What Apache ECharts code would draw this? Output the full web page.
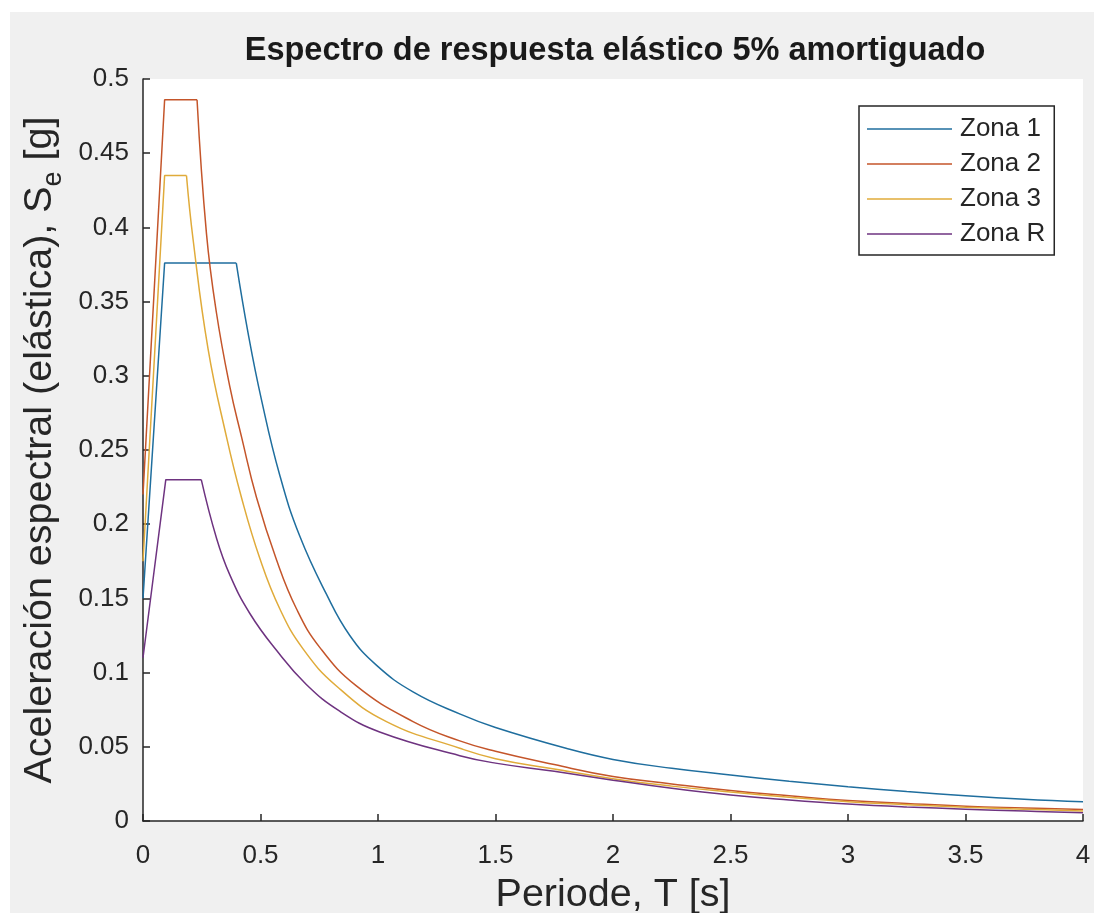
<!DOCTYPE html>
<html>
<head>
<meta charset="utf-8">
<title>Espectro de respuesta elástico</title>
<script src="https://cdn.jsdelivr.net/npm/echarts@6/dist/echarts.min.js"></script>
<style>
  html, body { margin: 0; padding: 0; background: #ffffff; }
  #chart { width: 1094px; height: 913px; }
</style>
</head>
<body>
<div id="chart"></div>
<script>
// Elastic response spectra, 5% damping: [T (s), Se (g)] per seismic zone.
// Points 0..2 are the linear ramp and the flat plateau; the rest is the decaying branch.
const zona1 = [
  [0, 0.15], [0.092, 0.376], [0.397, 0.376],
  [0.447, 0.329], [0.504, 0.284], [0.582, 0.233], [0.667, 0.192], [0.78, 0.153],
  [0.88, 0.125], [0.993, 0.105], [1.149, 0.087], [1.35, 0.072], [1.5, 0.063],
  [1.8, 0.049], [2.0, 0.0415], [2.25, 0.0355], [2.5, 0.031], [2.75, 0.0268],
  [3.0, 0.0231], [3.25, 0.0198], [3.5, 0.0170], [3.75, 0.0147], [4.0, 0.013]
];
const zona2 = [
  [0, 0.22], [0.092, 0.486], [0.23, 0.486],
  [0.27, 0.396], [0.312, 0.343], [0.369, 0.293], [0.419, 0.259], [0.483, 0.218],
  [0.568, 0.176], [0.653, 0.143], [0.752, 0.117], [0.908, 0.091], [1.149, 0.067],
  [1.348, 0.054], [1.5, 0.047], [1.75, 0.038], [2.0, 0.030], [2.25, 0.025],
  [2.5, 0.0205], [2.75, 0.017], [3.0, 0.0138], [3.25, 0.0118], [3.5, 0.0100],
  [3.75, 0.0088], [4.0, 0.0077]
];
const zona3 = [
  [0, 0.175], [0.092, 0.435], [0.185, 0.435],
  [0.213, 0.392], [0.277, 0.318], [0.355, 0.259], [0.419, 0.218], [0.497, 0.177],
  [0.582, 0.143], [0.681, 0.116], [0.823, 0.091], [1.036, 0.067], [1.348, 0.049],
  [1.5, 0.042], [1.75, 0.035], [2.0, 0.0285], [2.25, 0.0235], [2.5, 0.0195],
  [2.75, 0.016], [3.0, 0.013], [3.25, 0.011], [3.5, 0.0093], [3.75, 0.0080],
  [4.0, 0.0068]
];
const zonaR = [
  [0, 0.11], [0.097, 0.23], [0.248, 0.23],
  [0.312, 0.191], [0.369, 0.166], [0.454, 0.140], [0.568, 0.115], [0.695, 0.092],
  [0.837, 0.074], [1.007, 0.060], [1.348, 0.044], [1.5, 0.039], [1.75, 0.0335],
  [2.0, 0.0275], [2.25, 0.022], [2.5, 0.0175], [2.75, 0.0142], [3.0, 0.0115],
  [3.25, 0.0095], [3.5, 0.0080], [3.75, 0.0067], [4.0, 0.0056]
];

const zoneNames = ['Zona 1', 'Zona 2', 'Zona 3', 'Zona R'];
const zoneData = [zona1, zona2, zona3, zonaR];
const zoneColors = ['#1f6e9e', '#c4552a', '#e0ab3a', '#6e3380'];

const xTicks = { min: 0, max: 4, interval: 0.5 };
const yTicks = { min: 0, max: 0.5, interval: 0.05 };

const FONT = '"Liberation Sans", Arial, Helvetica, sans-serif';
const INK = '#262626';

// Each zone: a straight ramp + plateau, then a smooth decaying branch (same legend name).
const series = [];
zoneData.forEach(function (pts, i) {
  const common = {
    name: zoneNames[i],
    type: 'line',
    symbol: 'none',
    color: zoneColors[i],
    lineStyle: { color: zoneColors[i], width: 1.5 },
    emphasis: { disabled: true },
    animation: false,
    z: 2 + i
  };
  series.push(Object.assign({}, common, { data: pts.slice(0, 3), smooth: false }));
  series.push(Object.assign({}, common, { data: pts.slice(2), smooth: 0.45 }));
});

const chart = echarts.init(document.getElementById('chart'), null, { renderer: 'canvas' });
chart.setOption({
  backgroundColor: '#ffffff',
  animation: false,
  textStyle: { fontFamily: FONT, color: INK },
  graphic: [{
    type: 'rect',
    silent: true,
    z: -100,
    shape: { x: 10, y: 12, width: 1084, height: 901 },
    style: { fill: '#f0f0f0' }
  }],
  title: {
    text: 'Espectro de respuesta elástico 5% amortiguado',
    left: 610,
    top: 30,
    textAlign: 'center',
    textStyle: { fontFamily: FONT, fontSize: 32.5, fontWeight: 'bold', color: '#1a1a1a' }
  },
  legend: {
    data: zoneNames,
    orient: 'vertical',
    left: 859,
    top: 106,
    padding: [10, 9, 8, 8],
    itemWidth: 85,
    itemHeight: 14,
    itemGap: 9,
    icon: 'path://M0,0H170V3H0Z',
    backgroundColor: '#ffffff',
    borderColor: INK,
    borderWidth: 1.5,
    borderRadius: 0,
    selectedMode: false,
    textStyle: { fontFamily: FONT, fontSize: 26, color: INK, lineHeight: 26, padding: [0, 0, 0, 3] }
  },
  grid: {
    left: 143,
    top: 79,
    right: 11,
    bottom: 92,
    show: true,
    backgroundColor: '#ffffff',
    borderWidth: 0,
    containLabel: false,
    outerBoundsMode: 'none'
  },
  xAxis: {
    type: 'value',
    min: xTicks.min,
    max: xTicks.max,
    interval: xTicks.interval,
    name: 'Periode, T [s]',
    nameLocation: 'middle',
    nameGap: 54,
    nameTextStyle: { fontFamily: FONT, fontSize: 39.5, color: INK },
    axisLine: { show: true, onZero: false, lineStyle: { color: INK, width: 1.5 } },
    axisTick: { show: true, inside: true, length: 7, lineStyle: { color: INK, width: 1.5 } },
    axisLabel: { margin: 22, fontFamily: FONT, fontSize: 26, color: INK, showMinLabel: true, showMaxLabel: true },
    splitLine: { show: false }
  },
  yAxis: {
    type: 'value',
    min: yTicks.min,
    max: yTicks.max,
    interval: yTicks.interval,
    name: 'Aceleración espectral (elástica), S{sub|e} [g]',
    nameLocation: 'middle',
    nameRotate: 90,
    nameGap: 75,
    nameTextStyle: {
      fontFamily: FONT, fontSize: 39.5, color: INK, lineHeight: 54,
      rich: {
        sub: { fontFamily: FONT, fontSize: 27, color: INK, lineHeight: 27, verticalAlign: 'bottom' }
      }
    },
    axisLine: { show: true, onZero: false, lineStyle: { color: INK, width: 1.5 } },
    axisTick: { show: true, inside: true, length: 7, lineStyle: { color: INK, width: 1.5 } },
    axisLabel: { margin: 14, fontFamily: FONT, fontSize: 26, color: INK, showMinLabel: true, showMaxLabel: true },
    splitLine: { show: false }
  },
  series: series
});
</script>
</body>
</html>
